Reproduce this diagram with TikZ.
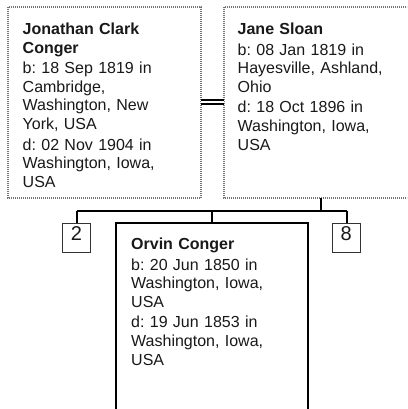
\documentclass[tikz,border=0pt]{standalone}
\usepackage{fontspec}
\setmainfont{Liberation Sans}
\frenchspacing
\begin{document}
\begin{tikzpicture}[x=1pt,y=-1pt,
  dotbox/.style={draw=black!55, line width=1.3pt, dash pattern=on 1pt off 1pt},
  childbox/.style={draw=black, line width=2pt},
  numbox/.style={draw=black!80, line width=0.8pt},
  conn/.style={draw=black, line width=2pt},
  info/.style={anchor=base west, inner sep=0pt, text width=185pt, align=left,
    font=\fontsize{16}{18.6}\selectfont, text=black!90},
  num/.style={anchor=base, inner sep=0pt, font=\fontsize{20}{22}\selectfont, text=black!90}]
\clip (0,0) rectangle (407,409);
\fill[white] (0,0) rectangle (407,409);
% boxes
\path[dotbox] (8,7) rectangle (201,198);
\coordinate (fL) at (201,102);
\path[dotbox] (224,7) rectangle (420,198);
\coordinate (mR) at (224,102);
\coordinate (mB) at (320.5,198);
\path[childbox] (116,223) rectangle (308,440);
\coordinate (cT) at (212,223);
\node[numbox, minimum width=28pt, minimum height=29pt, inner sep=0pt] (b2) at (76.7,237.5) {};
\node[numbox, minimum width=28.5pt, minimum height=29pt, inner sep=0pt] (b8) at (346.5,237.5) {};
\node[num] (t2) at (76.5,240.5) {2};
\node[num] (t8) at (346.2,240.5) {8};
% texts
\node[info] (fatherT) at (22.5,34.5) {\textbf{Jonathan Clark}\\\textbf{Conger}\\[2pt]
b: 18 Sep 1819 in\\Cambridge,\\Washington, New\\York, USA\\[2pt]
d: 02 Nov 1904 in\\Washington, Iowa,\\USA};
\node[info] (motherT) at (237.5,34.5) {\textbf{Jane Sloan}\\[2pt]
b: 08 Jan 1819 in\\Hayesville, Ashland,\\Ohio\\[2pt]
d: 18 Oct 1896 in\\Washington, Iowa,\\USA};
\node[info] (childT) at (131,249.5) {\textbf{Orvin Conger}\\[2pt]
b: 20 Jun 1850 in\\Washington, Iowa,\\USA\\[2pt]
d: 19 Jun 1853 in\\Washington, Iowa,\\USA};
% connectors
\draw[line width=1.2pt, double distance=2.8pt] (fL) -- (mR);
\coordinate (hL) at (76.7,210.5);
\coordinate (hR) at (346.5,210.5);
\coordinate (hM) at (320.5,210.5);
\coordinate (hC) at (212,210.5);
\draw[conn] (mB) -- (hM);
\draw[conn] (hL) -- (hR);
\draw[conn] (hL) -- (b2.north);
\draw[conn] (hC) -- (cT);
\draw[conn] (hR) -- (b8.north);
\end{tikzpicture}
\end{document}
